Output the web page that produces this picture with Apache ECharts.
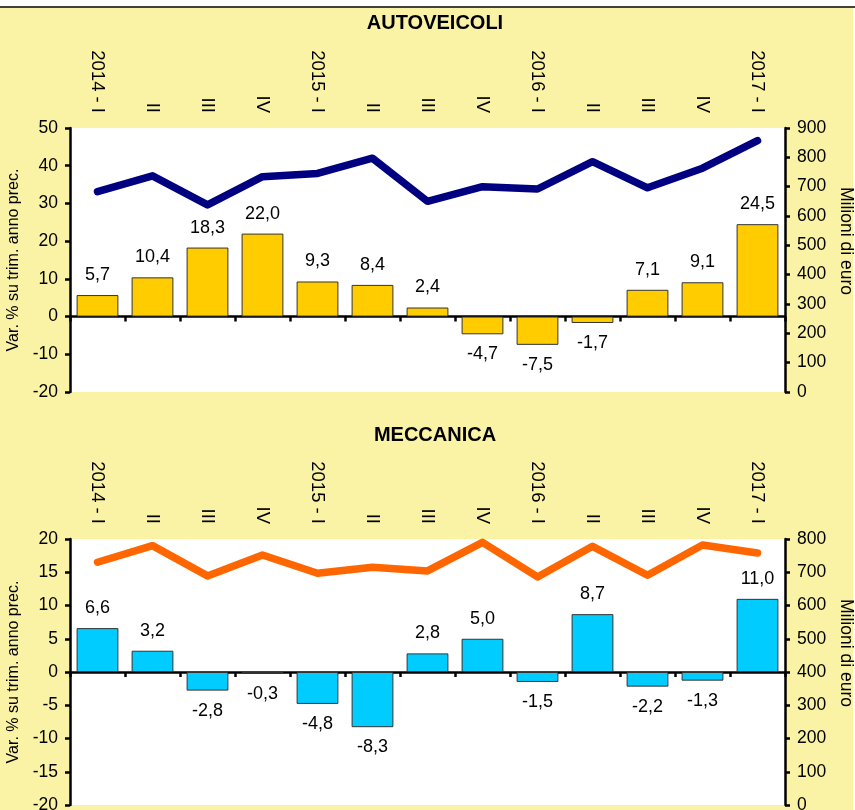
<!DOCTYPE html>
<html><head><meta charset="utf-8">
<script src="https://cdn.jsdelivr.net/npm/echarts@6/dist/echarts.min.js"></script>
<style>html,body{margin:0;padding:0;background:#fff}#c{width:855px;height:810px}</style>
</head><body><div id="c"></div>
<script>
const categories = ['2014 - I','II','III','IV','2015 - I','II','III','IV','2016 - I','II','III','IV','2017 - I'];
const autoVar = [5.7, 10.4, 18.3, 22.0, 9.3, 8.4, 2.4, -4.7, -7.5, -1.7, 7.1, 9.1, 24.5];
const autoEuro = [683, 737, 638, 734, 745, 797, 650, 700, 692, 785, 696, 763, 857];
const meccVar = [6.6, 3.2, -2.8, -0.3, -4.8, -8.3, 2.8, 5.0, -1.5, 8.7, -2.2, -1.3, 11.0];
const meccEuro = [730, 780, 689, 752, 697, 715, 704, 790, 686, 778, 691, 782, 758];
const titles = ['AUTOVEICOLI', 'MECCANICA'];
const leftName = 'Var. % su trim. anno prec.';
const rightName = 'Milioni di euro';

const FONT = 'Liberation Sans, Arial, sans-serif';
const chart = echarts.init(document.getElementById('c'), null, {renderer: 'canvas'});

function barData(vals) {
  return vals.map(v => ({
    value: v,
    label: {position: v < 0 ? 'bottom' : 'top'}
  }));
}
const fmt = p => p.value.toFixed(1).replace('.', ',');

const grids = [
  {left: 70, top: 128, width: 715, height: 264, containLabel: false, outerBoundsMode: 'none'},
  {left: 70, top: 539, width: 715, height: 266, containLabel: false, outerBoundsMode: 'none'}
];

function yLeft(gi, min, max, interval) {
  return {
    type: 'value', gridIndex: gi, position: 'left', min, max, interval,
    name: leftName, nameLocation: 'middle', nameGap: 42,
    nameTextStyle: {fontFamily: FONT, fontSize: 16, color: '#000'},
    axisLine: {show: true, lineStyle: {color: '#000', width: 2.5}},
    axisTick: {show: true, length: 5, lineStyle: {color: '#000', width: 2.5}},
    axisLabel: {fontFamily: FONT, fontSize: 17.5, color: '#000', margin: 12},
    splitLine: {show: false}
  };
}
function yRight(gi, min, max, interval) {
  return {
    type: 'value', gridIndex: gi, position: 'right', min, max, interval,
    name: rightName, nameLocation: 'middle', nameGap: 51, nameRotate: -90,
    nameTextStyle: {fontFamily: FONT, fontSize: 17.5, color: '#000', padding: [0, 38, 0, 0]},
    axisLine: {show: true, lineStyle: {color: '#000', width: 2.5}},
    axisTick: {show: true, length: 5, lineStyle: {color: '#000', width: 2.5}},
    axisLabel: {fontFamily: FONT, fontSize: 17.5, color: '#000', margin: 12},
    splitLine: {show: false}
  };
}
function xBars(gi) {
  return {
    type: 'category', gridIndex: gi, data: categories, position: 'bottom',
    axisLine: {show: true, onZero: true, lineStyle: {color: '#000', width: 2.5}},
    axisTick: {show: true, length: 5, inside: false, lineStyle: {color: '#000', width: 2.5}},
    axisLabel: {show: false}
  };
}
function xLabels(gi) {
  return {
    type: 'category', gridIndex: gi, data: categories, position: 'top',
    axisLine: {show: false, onZero: false},
    axisTick: {show: false},
    axisLabel: {show: true, interval: 0, rotate: 90, margin: 15, fontFamily: FONT, fontSize: 18.5, color: '#000'}
  };
}
function bars(xi, yi, vals, color) {
  return {
    type: 'bar', xAxisIndex: xi, yAxisIndex: yi, data: barData(vals),
    barCategoryGap: '24%',
    itemStyle: {color: color, borderColor: '#333', borderWidth: 1},
    label: {show: true, distance: 11, formatter: fmt, fontFamily: FONT, fontSize: 18, color: '#000'},
    z: 2
  };
}
function line(xi, yi, vals, color) {
  return {
    type: 'line', xAxisIndex: xi, yAxisIndex: yi, data: vals,
    symbol: 'none', lineStyle: {color: color, width: 7.5, cap: 'round', join: 'round'},
    z: 3
  };
}

chart.setOption({
  animation: false,
  backgroundColor: '#fff',
  graphic: [
    {type: 'rect', shape: {x: 0, y: 8, width: 853, height: 802}, style: {fill: '#FAF3A5'}, z: -10, silent: true},
    {type: 'line', shape: {x1: 0, y1: 7, x2: 855, y2: 7}, style: {stroke: '#000', lineWidth: 1.5}, z: -9},
    {type: 'rect', shape: {x: 70, y: 128, width: 715, height: 264}, style: {fill: '#fff'}, z: -8},
    {type: 'rect', shape: {x: 70, y: 539, width: 715, height: 266}, style: {fill: '#fff'}, z: -8},
    {type: 'text', x: 435, y: 23, style: {text: titles[0], align: 'center', verticalAlign: 'middle', font: 'bold 20px ' + FONT, fill: '#000'}},
    {type: 'text', x: 435, y: 435, style: {text: titles[1], align: 'center', verticalAlign: 'middle', font: 'bold 20px ' + FONT, fill: '#000'}}
  ],
  grid: grids,
  xAxis: [xBars(0), xLabels(0), xBars(1), xLabels(1)],
  yAxis: [yLeft(0, -20, 50, 10), yRight(0, 0, 900, 100), yLeft(1, -20, 20, 5), yRight(1, 0, 800, 100)],
  series: [
    bars(0, 0, autoVar, '#FFCC00'),
    line(0, 1, autoEuro, '#000080'),
    bars(2, 2, meccVar, '#00CCFF'),
    line(2, 3, meccEuro, '#FF6600')
  ]
});
</script></body></html>
